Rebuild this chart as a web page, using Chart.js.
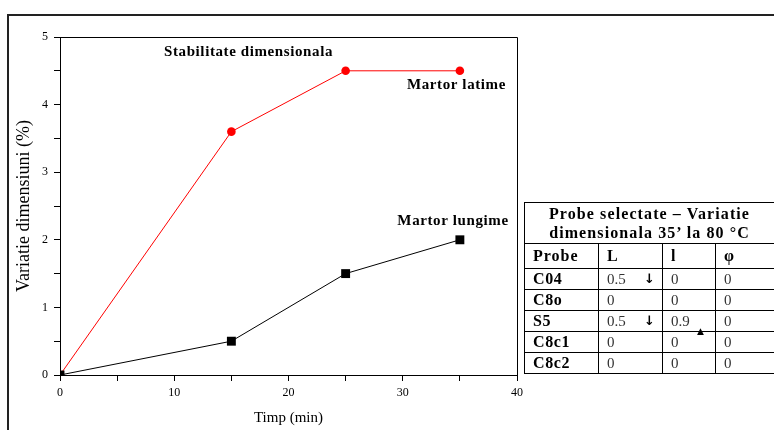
<!DOCTYPE html>
<html>
<head>
<meta charset="utf-8">
<script src="https://cdn.jsdelivr.net/npm/chart.js@4"></script>
<style>
  body { margin: 0; background: #fff; }
  #wrap { position: relative; width: 774px; height: 430px; overflow: hidden; }
  #frame { position: absolute; left: 7px; top: 14px; width: 800px; height: 500px;
           border-top: 2px solid #222; border-left: 2px solid #222; pointer-events: none; }
  #tab { position: absolute; left: 524px; top: 202px; width: 250px; border-collapse: collapse;
         table-layout: fixed; font-family: "Liberation Serif", serif; color: #000; }
  #tab td, #tab th { border: 1px solid #000; padding: 0 0 0 8px; text-align: left;
                     position: relative; white-space: nowrap; overflow: visible; }
  #tab th.title { text-align: center; font-size: 16px; line-height: 19px; height: 40px; padding: 0; letter-spacing: 1.1px; }
  #tab th { font-size: 16px; height: 24px; letter-spacing: 1px; }
  #tab td { font-size: 15px; height: 20px; line-height: 18px; }
  #tab td.name { font-weight: bold; font-size: 16px; letter-spacing: 0.6px; }
  #tab td.val { color: #333; }
  .down { position: absolute; left: 45px; top: 1px; font-family: "DejaVu Sans"; font-size: 13px; font-weight: bold; color: #000; }
  .up { position: absolute; left: 34px; top: 11px; font-family: "DejaVu Sans"; font-size: 9px; color: #000; }
</style>
</head>
<body>
<div id="wrap">
  <canvas id="grafic" width="774" height="430"></canvas>
  <div id="frame"></div>
  <table id="tab">
    <colgroup><col style="width:74px"><col style="width:64px"><col style="width:53px"><col style="width:59px"></colgroup>
    <tbody id="tabBody"></tbody>
  </table>
</div>
<script>
const timp = [0, 15, 25, 35];
const martorLatime = [0, 3.6, 4.5, 4.5];
const martorLungime = [0, 0.5, 1.5, 2.0];

const probe = ["C04", "C8o", "S5", "C8c1", "C8c2"];
const valL = ["0.5", "0", "0.5", "0", "0"];
const vall = ["0", "0", "0.9", "0", "0"];
const valPhi = ["0", "0", "0", "0", "0"];
const sageataL = [true, false, true, false, false];
const sageatal = [false, false, true, false, false];

const etichete = [
  { text: "Stabilitate dimensionala", x: 16.5, y: 4.78 },
  { text: "Martor latime", x: 34.7, y: 4.29 },
  { text: "Martor lungime", x: 34.4, y: 2.28 }
];

// tabel
const tabBody = document.getElementById("tabBody");
let html = `<tr><th colspan="4" class="title">Probe selectate – Variatie<br>dimensionala 35’ la 80 °C</th></tr>`;
html += `<tr><th>Probe</th><th>L</th><th>l</th><th>φ</th></tr>`;
probe.forEach((p, i) => {
  html += `<tr><td class="name">${p}</td>`;
  html += `<td class="val">${valL[i]}${sageataL[i] ? '<span class="down">↓</span>' : ""}</td>`;
  html += `<td class="val">${vall[i]}${sageatal[i] ? '<span class="up">▲</span>' : ""}</td>`;
  html += `<td class="val">${valPhi[i]}</td></tr>`;
});
tabBody.innerHTML = html;

const toPts = (ys) => timp.map((t, i) => ({ x: t, y: ys[i] }));

const chenar = {
  id: "chenar",
  afterDraw(chart) {
    const { ctx, chartArea: a, scales } = chart;
    ctx.save();
    ctx.strokeStyle = "#000";
    ctx.lineWidth = 1;
    ctx.beginPath();
    ctx.moveTo(a.left, a.top + 0.5);
    ctx.lineTo(a.right + 0.5, a.top + 0.5);
    ctx.lineTo(a.right + 0.5, a.bottom);
    ctx.stroke();
    ctx.fillStyle = "#000";
    ctx.font = "bold 15px 'Liberation Serif'";
    ctx.letterSpacing = "0.6px";
    ctx.textAlign = "center";
    ctx.textBaseline = "middle";
    etichete.forEach((e) => {
      ctx.fillText(e.text, scales.x.getPixelForValue(e.x), scales.y.getPixelForValue(e.y));
    });
    ctx.restore();
  }
};

const axa = {
  grid: { drawOnChartArea: false, drawTicks: true, tickLength: 6, color: "#000" },
  border: { display: true, color: "#000", width: 1 }
};

new Chart(document.getElementById("grafic"), {
  type: "line",
  data: {
    datasets: [
      {
        label: "Martor lungime",
        data: toPts(martorLungime),
        borderColor: "#000",
        backgroundColor: "#000",
        borderWidth: 1,
        pointStyle: "rect",
        pointRadius: 6.3,
        pointBorderWidth: 0
      },
      {
        label: "Martor latime",
        data: toPts(martorLatime),
        borderColor: "#ff0000",
        backgroundColor: "#ff0000",
        borderWidth: 1,
        pointStyle: "circle",
        pointRadius: 4.3,
        pointBorderWidth: 0
      }
    ]
  },
  options: {
    responsive: false,
    animation: false,
    layout: { padding: { left: 0, top: 37, right: 257, bottom: 0 } },
    plugins: { legend: { display: false }, tooltip: { enabled: false } },
    scales: {
      x: {
        type: "linear",
        min: 0,
        max: 40,
        ...axa,
        ticks: {
          stepSize: 5,
          autoSkip: false,
          maxRotation: 0,
          padding: 5,
          color: "#000",
          font: { family: "'Liberation Serif'", size: 12 },
          callback: (v) => (v % 10 === 0 ? v : "")
        },
        title: {
          display: true,
          text: "Timp (min)",
          color: "#000",
          font: { family: "'Liberation Serif'", size: 15 },
          padding: { top: 0, bottom: 3 }
        },
        afterFit: (s) => { s.height = 55; }
      },
      y: {
        min: 0,
        max: 5,
        ...axa,
        ticks: {
          stepSize: 0.5,
          autoSkip: false,
          padding: 6,
          color: "#000",
          font: { family: "'Liberation Serif'", size: 12 },
          callback: (v) => (v % 1 === 0 ? v : "")
        },
        title: {
          display: true,
          text: "Variatie dimensiuni (%)",
          color: "#000",
          font: { family: "'Liberation Serif'", size: 18 },
          padding: { top: 13, bottom: 0 }
        },
        afterFit: (s) => { s.width = 60; }
      }
    }
  },
  plugins: [chenar]
});
</script>
</body>
</html>
